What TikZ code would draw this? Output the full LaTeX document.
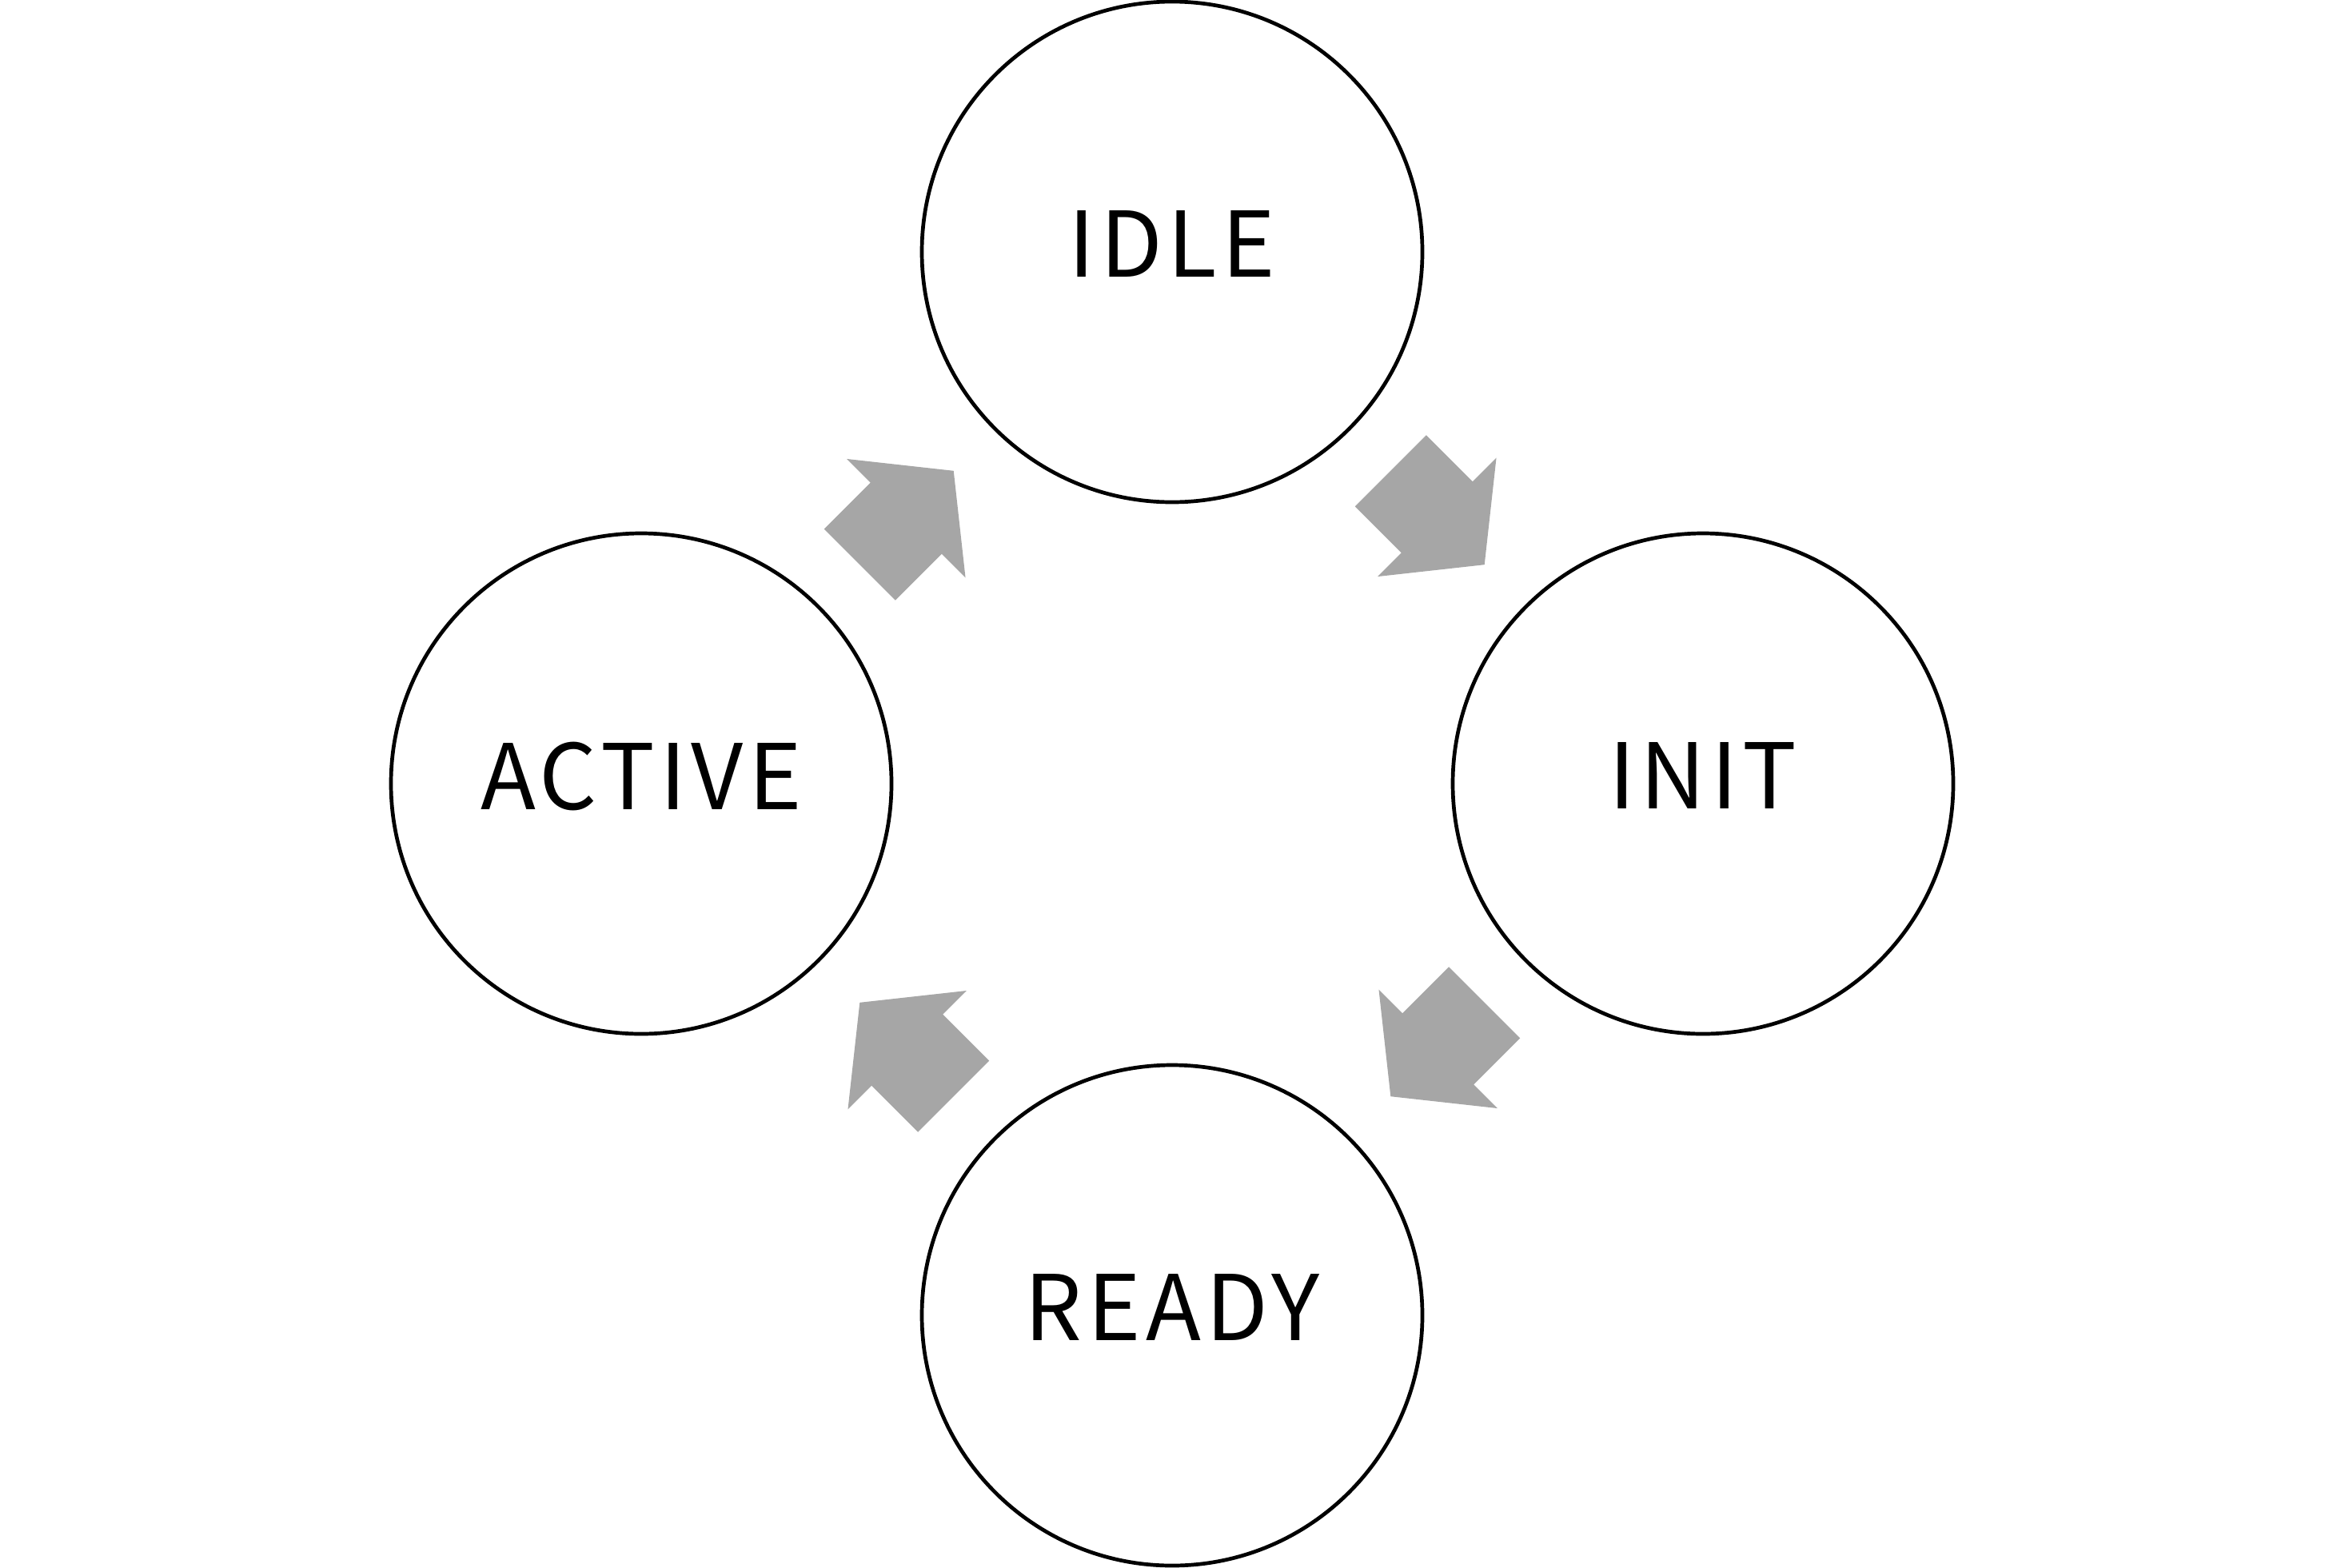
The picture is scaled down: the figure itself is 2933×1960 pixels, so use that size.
\documentclass[tikz,border=0pt]{standalone}
\usepackage{fontspec}
\setmainfont[LetterSpace=5.6]{Noto Sans CJK JP}
\usetikzlibrary{calc}
\definecolor{arrowgray}{HTML}{A6A6A6}
\tikzset{
  x=0.5pt, y=0.5pt,
  state/.style={circle, draw=black, line width=2.35pt, minimum size=313pt, inner sep=0pt,
    font=\fontsize{56.6}{60}\selectfont, text depth=10pt},
  blockarrow/.pic={\fill[arrowgray] (-83,-63) -- (-1,-63) -- (-1,-105) -- (83,0) -- (-1,105) -- (-1,63) -- (-83,63) -- cycle;}
}
\begin{document}
\begin{tikzpicture}
\useasboundingbox (0,0) rectangle (2933,-1960);
\node[state] (idle) at (1466,-315) {IDLE};
\node[state] (init) at (2130,-980) {INIT};
\node[state] (ready) at (1466,-1645) {READY};
\node[state] (active) at (802,-980) {ACTIVE};
\path ($(idle)!0.5!(init)$) pic[rotate=-45] {blockarrow};
\path ($(init)!0.5!(ready)$) pic[rotate=-135] {blockarrow};
\path ($(ready)!0.5!(active)$) pic[rotate=135] {blockarrow};
\path ($(active)!0.5!(idle)$) pic[rotate=45] {blockarrow};
\end{tikzpicture}
\end{document}
